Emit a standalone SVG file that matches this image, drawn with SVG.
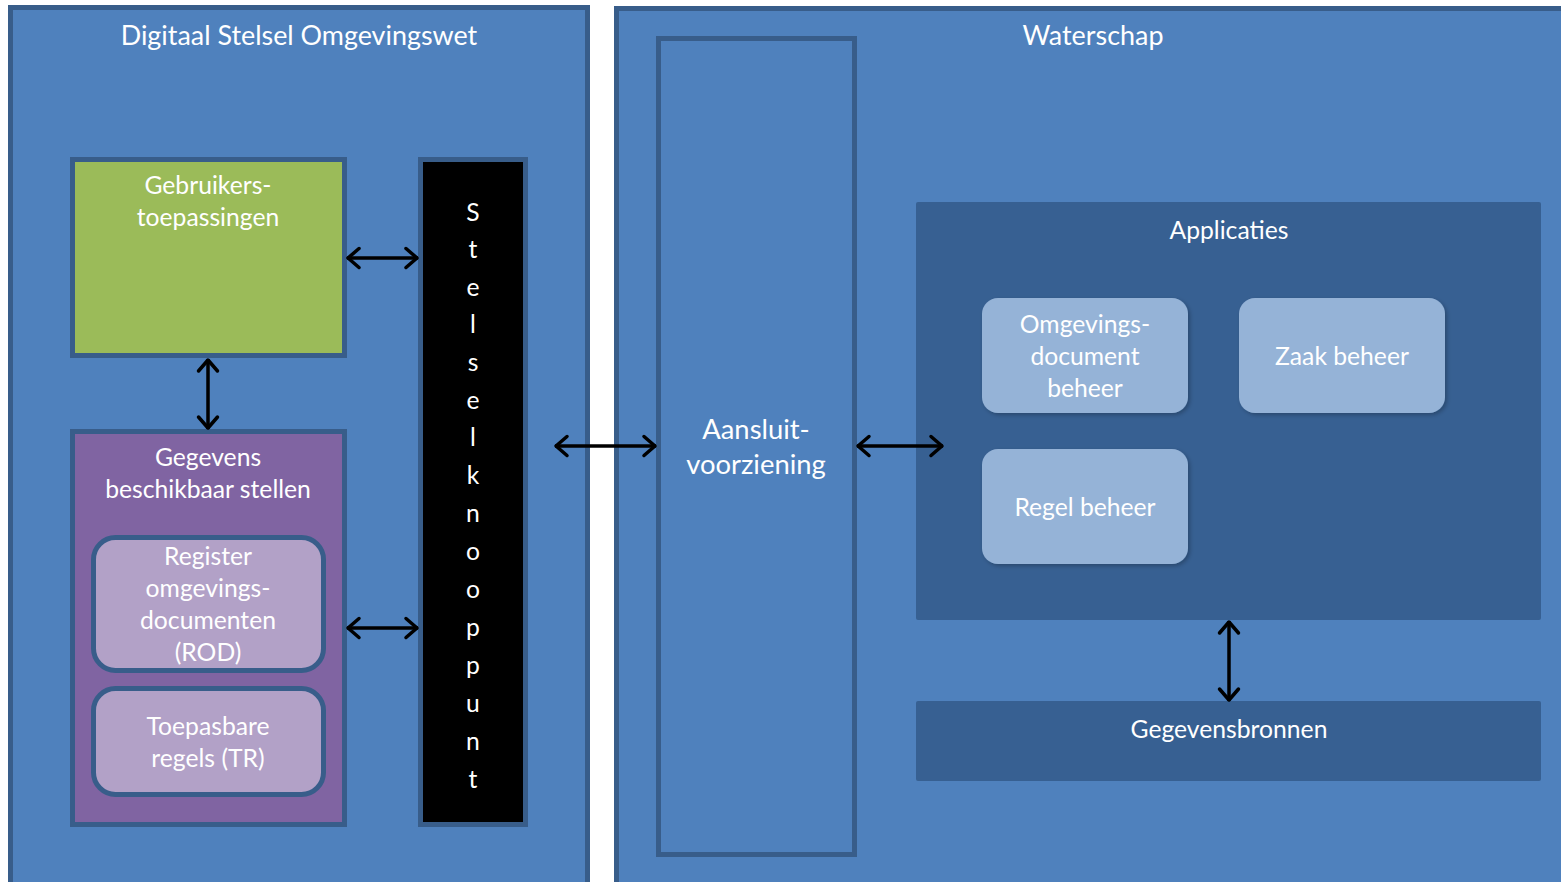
<svg xmlns="http://www.w3.org/2000/svg" width="1561" height="882" viewBox="0 0 1561 882">
<defs>
<style>
.panel{fill:#4f81bd;stroke:#385d8a;stroke-width:5}
.dark{fill:#376092}
.t{font-family:Lato,"Open Sans",sans-serif;fill:#ffffff;text-anchor:middle}
.b{font-size:24.7px}
.conn{stroke:#000;stroke-width:3.5;fill:none}
</style>
<marker id="ah" viewBox="-16 -12 20 24" refX="0" refY="0" markerWidth="20" markerHeight="24" markerUnits="userSpaceOnUse" orient="auto-start-reverse">
<path d="M-12,-9.5 L-1,0 L-12,9.5" fill="none" stroke="#000" stroke-width="3.5" stroke-linecap="round" stroke-linejoin="round"/>
</marker>
<filter id="sh" x="-10%" y="-10%" width="130%" height="130%">
<feDropShadow dx="2" dy="2" stdDeviation="2" flood-color="#000" flood-opacity="0.25"/>
</filter>
</defs>
<rect width="1561" height="882" fill="#ffffff"/>
<g id="dso">
<rect class="panel" x="10.5" y="7.5" width="577" height="900"/>
<text class="t" x="299" y="45" font-size="26.9">Digitaal Stelsel Omgevingswet</text>
</g>
<g id="waterschap">
<rect class="panel" x="616.5" y="8.5" width="980" height="900"/>
<text class="t" x="1093" y="45" font-size="26.9">Waterschap</text>
</g>
<g id="gebruikers">
<rect x="72.5" y="159.5" width="272" height="196" fill="#9bbb59" stroke="#385d8a" stroke-width="5"/>
<text class="t b" x="208" y="194">Gebruikers-</text>
<text class="t b" x="208" y="226">toepassingen</text>
</g>
<g id="stelselknooppunt">
<rect x="420.5" y="159.5" width="105" height="665" fill="#000000" stroke="#385d8a" stroke-width="5"/>
<g class="t b">
<text x="473" y="221">S</text>
<text x="473" y="258">t</text>
<text x="473" y="296">e</text>
<text x="473" y="333">l</text>
<text x="473" y="371">s</text>
<text x="473" y="409">e</text>
<text x="473" y="446">l</text>
<text x="473" y="484">k</text>
<text x="473" y="522">n</text>
<text x="473" y="560">o</text>
<text x="473" y="598">o</text>
<text x="473" y="636">p</text>
<text x="473" y="674">p</text>
<text x="473" y="712">u</text>
<text x="473" y="750">n</text>
<text x="473" y="788">t</text>
</g>
</g>
<g id="gegevens-beschikbaar">
<rect x="72.5" y="431.5" width="272" height="393" fill="#8064a2" stroke="#385d8a" stroke-width="5"/>
<text class="t b" x="208" y="466">Gegevens</text>
<text class="t b" x="208" y="498">beschikbaar stellen</text>
</g>
<g id="rod">
<rect x="93.5" y="537.5" width="230" height="133" rx="22" fill="#b2a1c7" stroke="#385d8a" stroke-width="5"/>
<text class="t b" x="208" y="565">Register</text>
<text class="t b" x="208" y="597">omgevings-</text>
<text class="t b" x="208" y="629">documenten</text>
<text class="t b" x="208" y="661">(ROD)</text>
</g>
<g id="tr">
<rect x="93.5" y="688.5" width="230" height="106" rx="22" fill="#b2a1c7" stroke="#385d8a" stroke-width="5"/>
<text class="t b" x="208" y="735">Toepasbare</text>
<text class="t b" x="208" y="767">regels (TR)</text>
</g>
<g id="aansluitvoorziening">
<rect x="658.5" y="38.5" width="196" height="816" fill="#4f81bd" stroke="#385d8a" stroke-width="5"/>
<text class="t" x="756" y="439" font-size="27.4">Aansluit-</text>
<text class="t" x="756" y="474" font-size="27.4">voorziening</text>
</g>
<g id="applicaties">
<rect class="dark" x="916" y="202" width="625" height="418" rx="2"/>
<text class="t b" x="1229" y="239">Applicaties</text>
</g>
<g id="omgevingsdocument-beheer">
<rect x="982" y="298" width="206" height="115" rx="16" fill="#95b3d7" filter="url(#sh)"/>
<text class="t b" x="1085" y="333">Omgevings-</text>
<text class="t b" x="1085" y="365">document</text>
<text class="t b" x="1085" y="397">beheer</text>
</g>
<g id="zaak-beheer">
<rect x="1239" y="298" width="206" height="115" rx="16" fill="#95b3d7" filter="url(#sh)"/>
<text class="t b" x="1342" y="365">Zaak beheer</text>
</g>
<g id="regel-beheer">
<rect x="982" y="449" width="206" height="115" rx="16" fill="#95b3d7" filter="url(#sh)"/>
<text class="t b" x="1085" y="516">Regel beheer</text>
</g>
<g id="gegevensbronnen">
<rect class="dark" x="916" y="701" width="625" height="80" rx="2"/>
<text class="t b" x="1229" y="738">Gegevensbronnen</text>
</g>
<g id="connectors">
<line class="conn" x1="347" y1="258" x2="418" y2="258" marker-start="url(#ah)" marker-end="url(#ah)"/>
<line class="conn" x1="208" y1="359" x2="208" y2="429" marker-start="url(#ah)" marker-end="url(#ah)"/>
<line class="conn" x1="347" y1="628" x2="418" y2="628" marker-start="url(#ah)" marker-end="url(#ah)"/>
<line class="conn" x1="555" y1="446" x2="656" y2="446" marker-start="url(#ah)" marker-end="url(#ah)"/>
<line class="conn" x1="857" y1="446" x2="943" y2="446" marker-start="url(#ah)" marker-end="url(#ah)"/>
<line class="conn" x1="1229" y1="621" x2="1229" y2="701" marker-start="url(#ah)" marker-end="url(#ah)"/>
</g>
</svg>
